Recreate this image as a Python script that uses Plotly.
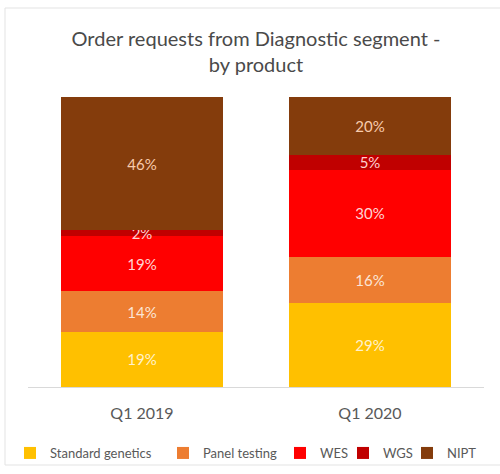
import plotly.graph_objects as go

categories = ["Q1 2019", "Q1 2020"]
series_names = ["Standard genetics", "Panel testing", "WES", "WGS", "NIPT"]
standard_genetics = [19, 29]
panel_testing = [14, 16]
wes = [19, 30]
wgs = [2, 5]
nipt = [46, 20]

series_values = [standard_genetics, panel_testing, wes, wgs, nipt]
colors = ["#FFC000", "#ED7D31", "#FF0000", "#C00000", "#843C0C"]
label_colors = ["#FFF2CC", "#FBE5D6", "#FFD5D5", "#FFD0D0", "#F8CBAD"]

W, H = 500, 474
ML, MR, MT, MB = 28, 16, 97, 87
PW = W - ML - MR
PH = H - MT - MB

def px_x(p):
    return (p - ML) / PW

def px_y(p):
    return (H - MB - p) / PH

legend_text_starts = [50, 203, 320, 383, 447]
legend_y = 453

fig = go.Figure()
for i, (name, vals) in enumerate(zip(series_names, series_values)):
    lname = "legend" if i == 0 else f"legend{i+1}"
    fig.add_trace(go.Bar(
        x=categories, y=vals, name=name,
        marker=dict(color=colors[i], line=dict(width=0)),
        texttemplate="%{y}%", textposition="inside",
        insidetextanchor="middle", constraintext="none", textangle=0,
        textfont=dict(family="Lato", size=15, color=label_colors[i]),
        legend=lname, showlegend=True,
    ))

layout_legends = {}
for i in range(len(series_names)):
    lname = "legend" if i == 0 else f"legend{i+1}"
    layout_legends[lname] = dict(
        orientation="h", x=px_x(legend_text_starts[i] - 40), xanchor="left",
        y=px_y(legend_y), yanchor="middle",
        font=dict(family="Lato", size=13, color="#595959"),
        bgcolor="rgba(0,0,0,0)", borderwidth=0, visible=True,
    )

fig.update_layout(
    width=W, height=H,
    showlegend=True,
    margin=dict(l=ML, r=MR, t=MT, b=MB, autoexpand=False),
    barmode="stack", bargap=0.29,
    paper_bgcolor="white", plot_bgcolor="white",
    title=dict(
        text="Order requests from Diagnostic segment -<br>by product",
        x=0.5, xanchor="center", xref="paper",
        y=1 - 46 / H, yanchor="top",
        font=dict(family="Lato", size=20, color="#4A4A4A"),
    ),
    xaxis=dict(showline=True, linecolor="#D9D9D9", linewidth=1, ticks="",
               tickfont=dict(family="Lato", size=16, color="#595959"),
               ticklabelstandoff=12, showgrid=False, zeroline=False),
    yaxis=dict(visible=False, range=[0, 100], showgrid=False, zeroline=False),
    shapes=[dict(type="rect", xref="paper", yref="paper",
                 x0=px_x(5), x1=px_x(510), y0=px_y(465), y1=px_y(8),
                 line=dict(color="#E3E3E3", width=1), fillcolor="rgba(0,0,0,0)",
                 layer="below")],
    **layout_legends,
)

fig.write_html(
    "out.html",
    config={"displayModeBar": False},
    post_script="document.body.style.margin='0';document.body.style.overflow='hidden';",
)
